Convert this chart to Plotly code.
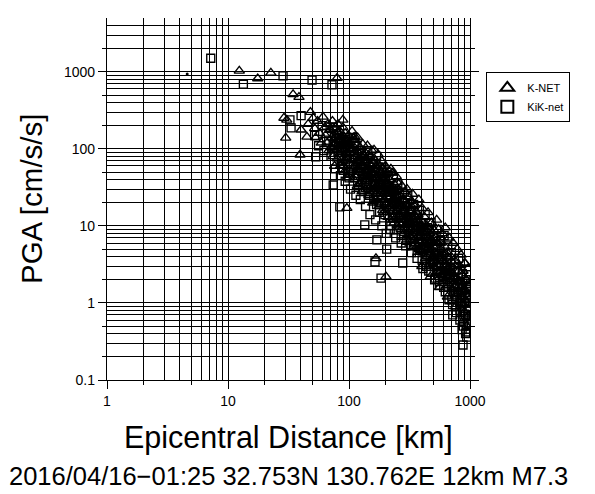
import math
import plotly.graph_objects as go

# ---- K-NET stations: epicentral distance [km] and PGA [cm/s/s] ----
knet_dist = [
    12.4, 17.6, 22.6, 29.0, 30.6, 30.0, 34.5, 38.6, 40.2, 39.4, 44.9, 50.6, 79.6,
    89, 112, 161, 188, 226, 338, 372, 907, 504, 167, 202, 250, 181, 96,
    46, 48, 52, 55, 57, 59, 53, 61, 63, 64, 66, 67, 68, 70, 72, 73, 74, 75, 76, 77, 78, 79,
    81, 82, 83, 84, 85, 86, 87, 88, 89, 90, 91, 92, 93, 94, 95, 96, 97, 98, 99, 100,
    102, 104, 105, 106, 108, 110, 111, 113, 115, 117, 118, 120, 122, 123, 125, 127, 128, 130,
    132, 134, 136, 138, 140, 142, 144, 146, 148, 150, 152, 155, 157, 159, 161, 163, 165, 167, 169,
    172, 174, 176, 178, 180, 182, 184, 186, 188, 190, 193, 195, 197, 200, 203, 205, 208, 210, 213, 216, 219,
    222, 225, 228, 231, 234, 237, 240, 243, 246, 250, 253, 256, 259, 262, 266, 270, 274, 278,
    282, 286, 290, 294, 298, 302, 306, 310, 315, 320, 325, 330, 335, 340, 345,
    350, 355, 360, 366, 372, 378, 384, 390, 396, 402, 408, 415, 422, 429, 436, 443, 450,
    457, 464, 472, 480, 488, 496, 504, 512, 520, 530, 540, 550, 560, 570, 580, 590,
    600, 612, 624, 636, 648, 660, 672, 685, 698, 712, 726, 740, 755, 770, 785, 800,
    815, 830, 845, 860, 875, 890, 905, 920, 935, 950, 965, 980, 995,
    71, 76, 80, 84, 88, 92, 95, 99, 103, 107, 109, 114, 119, 124, 126, 129, 133, 137, 141, 145,
    149, 153, 156, 160, 164, 168, 171, 175, 179, 183, 187, 192, 196, 201, 206, 211, 217, 223, 229, 235,
    241, 247, 252, 258, 264, 272, 280, 288, 296, 304, 312, 318, 328, 338, 348, 358, 368, 380, 393, 405,
    418, 432, 446, 460, 476, 492, 508, 525, 543, 562, 582, 603, 625, 648, 672, 697, 723, 750, 778, 808,
    840, 872, 905, 940, 975,
    70, 73, 77, 80, 83, 86, 90, 93, 96, 100, 104, 108, 112, 116, 120, 124, 128, 132, 136, 140,
    144, 148, 152, 156, 160, 164, 168, 172, 176, 180, 185, 190, 195, 200, 205, 210, 215, 220, 225, 230,
    236, 242, 248, 254, 260, 266, 272, 278, 285, 292, 299, 306, 314, 322, 330, 338, 346, 354, 362, 370,
    380, 390, 400, 410, 420, 430, 440, 450, 460, 470, 482, 494, 506, 518, 530, 543, 556, 569, 582, 595,
    610, 625, 640, 655, 670, 686, 702, 718, 735, 752, 770, 788, 806, 825, 844, 863, 883, 903, 924, 945,
    966, 988, 880, 940, 970, 760, 650, 560, 470, 400,
]
knet_pga = [
    1030, 820, 970, 252, 238, 139, 510, 470, 177, 84, 143, 252, 830,
    238, 143, 97, 57, 49, 19, 14, 3.3, 8.9, 3.8, 2.2, 37, 53, 17,
    210, 300, 185, 230, 160, 120, 140, 260, 190, 150, 120, 210, 95, 175, 140, 230, 80, 115, 60, 190, 150, 100,
    210, 130, 85, 170, 60, 110, 145, 75, 190, 120, 50, 95, 160, 70, 130, 42, 110, 85, 150, 65,
    120, 90, 55, 170, 75, 40, 130, 60, 95, 33, 140, 70, 50, 105, 38, 80, 28, 115,
    60, 45, 90, 30, 70, 110, 52, 25, 80, 40, 62, 95, 20, 48, 75, 35, 70, 26, 55,
    42, 85, 30, 18, 60, 38, 24, 70, 45, 32, 15, 45, 28, 60, 20, 36, 48, 13, 26, 40, 18,
    55, 30, 22, 49, 12, 35, 17, 27, 44, 25, 10, 21, 30, 14, 25, 9, 33, 16,
    22, 12, 28, 8.5, 18, 30, 11, 24, 7.5, 15, 21, 9, 26, 13, 6.5,
    19, 10, 15, 5.5, 11, 22, 8, 12, 4.8, 17, 9.5, 6, 13, 3.8, 10, 7, 15,
    5, 9, 3.2, 11, 6.5, 4, 6, 2.8, 7, 12, 4.5, 9, 2.5, 6, 3.6, 8,
    2.2, 5.5, 9.5, 3, 4.5, 1.8, 7, 2.6, 4, 1.5, 6, 2.2, 3.5, 1.2, 5, 2,
    3.1, 1.0, 4.2, 1.6, 2.6, 0.8, 3.3, 1.3, 2, 0.65, 2.8, 1.1, 1.7,
    105, 135, 165, 125, 100, 140, 88, 120, 65, 100, 140, 80, 58, 75, 60, 48, 82, 52, 44, 65,
    55, 33, 48, 28, 42, 60, 33, 24, 38, 50, 30, 40, 22, 35, 26, 30, 23, 18, 28, 22,
    14, 18, 30, 17, 20, 13, 18, 15, 12, 14, 18, 11, 13, 17, 11, 8, 9.5, 7, 9, 6.5,
    8.5, 6, 5, 7, 4.5, 5.5, 3.5, 4.2, 6, 3.8, 2.8, 3.6, 2.6, 2.8, 2.2, 3, 2.4, 1.6, 2.1, 1.4,
    1.9, 1.2, 1.5, 1.0, 1.3,
    180, 100, 120, 75, 150, 95, 60, 115, 75, 100, 50, 110, 45, 70, 90, 35, 60, 85, 40, 55,
    30, 45, 70, 28, 40, 55, 22, 32, 45, 20, 34, 16, 30, 42, 15, 24, 33, 12, 20, 27,
    11, 22, 16, 24, 9.5, 18, 12, 22, 8, 14, 19, 8.5, 12, 16, 7, 10.5, 14, 6, 9, 12,
    5, 8, 10, 4.5, 7, 9, 4, 6, 8, 3.5, 5, 7, 3, 4.5, 6, 2.6, 4, 5, 2.3, 3.5,
    4.5, 2, 3, 4, 1.7, 2.5, 3.5, 1.5, 2.2, 3, 1.3, 1.9, 2.6, 1.1, 1.6, 2.3, 0.95, 1.4, 2, 0.85,
    1.2, 1.8, 0.6, 0.5, 0.7, 0.9, 1.2, 1.6, 2.2, 3,
]

# ---- KiK-net stations ----
kik_dist = [
    7.2, 13.4, 28.5, 49.5, 72.3, 32.5, 33.2, 40.2, 74, 53, 74, 84, 135, 164, 170, 184, 205, 278, 876,
    52, 56, 60, 62, 65, 68, 71, 74, 77, 79, 81, 83, 85, 87, 89, 91, 93, 95, 97, 99,
    101, 103, 106, 108, 111, 114, 116, 119, 121, 124, 127, 129, 131, 134, 137, 140, 143, 146, 149, 152,
    156, 160, 163, 166, 169,
    173, 176, 179, 183, 187, 191, 195, 199, 203, 207, 211, 215, 219, 224, 228, 233, 238, 243, 248, 253,
    258, 264, 270, 276,
    282, 288, 294, 300, 306, 313, 320, 327, 334, 342, 349, 357, 365, 373, 381, 390, 399, 408, 417, 426,
    436, 446,
    456, 466, 477, 488, 499, 510, 522, 534, 546, 558, 571, 584, 597, 611, 625, 640, 655, 670, 686, 702,
    718, 735, 752, 770, 788,
    806, 825, 844, 863, 883, 903, 924, 945, 966, 988, 940, 955,
    78, 86, 94, 102, 110, 118, 126, 135, 144, 154, 165, 177, 190, 204, 219, 235, 252, 270, 290, 311,
    333, 356, 381, 408, 437, 468, 500, 535, 572, 612, 655, 700, 748, 800, 855, 915, 970,
    75, 82, 88, 94, 100, 106, 112, 118, 124, 130, 136, 142, 148, 155, 162, 169, 176, 183, 190, 198,
    206, 214, 222, 230, 238, 246, 254, 262, 270, 280, 290, 300, 310, 320, 330, 342, 354, 366, 378, 390,
    402, 414, 426, 438, 450, 462, 475, 488, 502, 516, 530, 545, 560, 575, 590, 606, 622, 638, 655, 672,
    690, 708, 726, 745, 764, 784, 804, 824, 845, 866, 888, 910, 932, 955, 978, 995, 860, 920, 980, 720,
]
kik_pga = [
    1500, 690, 890, 785, 680, 238, 187, 270, 193, 79, 34, 17.7, 10.3, 3.4, 6.6, 2.1, 5.0, 3.3, 0.285,
    150, 110, 200, 95, 160, 130, 80, 115, 55, 170, 90, 140, 45, 100, 65, 130, 38, 80, 115, 50,
    95, 30, 140, 60, 85, 25, 110, 45, 65, 22, 90, 40, 55, 75, 18, 35, 95, 50, 14, 30,
    65, 22, 44, 12, 80,
    25, 50, 15, 35, 10, 55, 20, 40, 8, 28, 45, 16, 9, 30, 13, 42, 20, 7, 25, 35,
    11, 18, 6, 27,
    14, 20, 5.5, 12, 25, 8, 16, 4.5, 10, 19, 6, 13, 3.8, 9, 16, 5, 11, 2.8, 8, 14,
    4.2, 9.5,
    2.6, 6.2, 11, 3.4, 7.5, 2, 5, 9, 3, 1.7, 6.5, 4, 2.2, 7.5, 1.4, 3.8, 5.5, 1.1, 2.8, 4.5,
    0.95, 2, 3.2, 0.75, 1.6,
    3.8, 0.6, 1.3, 2.4, 0.5, 1.0, 2, 0.42, 0.8, 1.5, 0.36, 1.2,
    125, 75, 105, 50, 120, 75, 55, 40, 28, 45, 35, 20, 30, 18, 24, 14, 16, 13, 9, 12,
    7, 9, 6, 5, 7, 4, 3.2, 5.5, 2.5, 2.9, 2.4, 1.8, 1.3, 1.4, 0.9, 0.7, 0.55,
    90, 120, 55, 140, 42, 80, 120, 38, 60, 30, 65, 48, 25, 52, 38, 19, 35, 28, 42, 14,
    25, 32, 10, 16, 24, 9, 13, 20, 7.5, 11, 16, 6.5, 9, 13, 5.5, 7.5, 11, 4.5, 6, 9.5,
    3.6, 5, 7.5, 3, 4.2, 6, 2.5, 3.6, 5, 2.1, 3, 4.2, 1.9, 2.6, 3.6, 1.6, 2.4, 3.2, 1.3, 2,
    2.8, 1.1, 1.7, 2.5, 0.9, 1.4, 2.1, 0.8, 1.2, 1.8, 0.7, 1.0, 1.5, 0.6, 0.9, 1.3, 0.45, 0.4, 0.5, 0.7,
]

# single unlabelled point near the epicentre
near_dist = [4.6]
near_pga = [940]

# ---- axes ----
x_range = [1, 1000]
y_range = [0.1, 5000]
x_major = [1, 10, 100, 1000]
x_major_text = ["1", "10", "100", "1000"]
y_major = [0.1, 1, 10, 100, 1000]
y_major_text = ["0.1", "1", "10", "100", "1000"]
sub_steps = [2, 5]
grid_steps = [2, 3, 4, 5, 6, 7, 8, 9]

title_text = "2016/04/16\u221201:25 32.753N 130.762E 12km M7.3"


def decade_multiples(lo, hi, steps):
    out = []
    d = 10 ** math.floor(math.log10(lo))
    while d <= hi:
        for s in steps:
            v = s * d
            if lo < v < hi:
                out.append(v)
        d *= 10
    return out


def log_range(r):
    return [math.log10(r[0]), math.log10(r[1])]


FONT = "Liberation Sans, Arial, Helvetica, sans-serif"
INK = "black"
LW = 1.3

fig = go.Figure()

fig.add_trace(go.Scatter(
    x=knet_dist, y=knet_pga, mode="markers", name="K-NET",
    marker=dict(symbol="triangle-up-open", size=9, color=INK, line=dict(width=1.35, color=INK)),
))
fig.add_trace(go.Scatter(
    x=kik_dist, y=kik_pga, mode="markers", name="KiK-net",
    marker=dict(symbol="square-open", size=8, color=INK, line=dict(width=1.35, color=INK)),
))
fig.add_trace(go.Scatter(
    x=near_dist, y=near_pga, mode="markers", showlegend=False,
    marker=dict(symbol="circle", size=3, color=INK),
))
# carrier for the secondary tick axes (2 and 5 marks)
fig.add_trace(go.Scatter(x=[], y=[], xaxis="x2", yaxis="y2", showlegend=False, hoverinfo="skip"))

common = dict(type="log", showline=True, linecolor=INK, linewidth=LW, zeroline=False,
              tickfont=dict(family=FONT, size=14, color=INK), tickcolor=INK, tickwidth=LW)

fig.update_layout(
    width=595, height=494,
    margin=dict(l=107, r=125, t=18, b=114),
    paper_bgcolor="white", plot_bgcolor="white",
    font=dict(family=FONT, color=INK),
    showlegend=True,
    xaxis=dict(
        **common, range=log_range(x_range),
        tickmode="array", tickvals=x_major, ticktext=x_major_text,
        ticks="outside", ticklen=8,
        showgrid=True, gridcolor=INK, gridwidth=LW,
        minor=dict(tickmode="array", tickvals=decade_multiples(*x_range, grid_steps),
                   showgrid=True, gridcolor=INK, gridwidth=LW, ticks=""),
    ),
    yaxis=dict(
        **common, range=log_range(y_range),
        tickmode="array", tickvals=y_major, ticktext=y_major_text,
        ticks="outside", ticklen=8, mirror="ticks",
        showgrid=True, gridcolor=INK, gridwidth=LW,
        minor=dict(tickmode="array", tickvals=decade_multiples(*y_range, grid_steps),
                   showgrid=True, gridcolor=INK, gridwidth=LW, ticks=""),
    ),
    xaxis2=dict(
        type="log", range=log_range(x_range), overlaying="x", anchor="y2", side="bottom",
        tickmode="array", tickvals=decade_multiples(*x_range, sub_steps),
        ticks="outside", ticklen=4, tickcolor=INK, tickwidth=LW,
        showticklabels=False, showgrid=False, zeroline=False, showline=False,
    ),
    yaxis2=dict(
        type="log", range=log_range(y_range), overlaying="y", anchor="x2", side="left",
        tickmode="array", tickvals=decade_multiples(*y_range, sub_steps),
        ticks="outside", ticklen=4, tickcolor=INK, tickwidth=LW, mirror="ticks",
        showticklabels=False, showgrid=False, zeroline=False, showline=False,
    ),
    legend=dict(
        x=1.045, y=0.85, xanchor="left", yanchor="top",
        bordercolor=INK, borderwidth=1, bgcolor="white",
        font=dict(family=FONT, size=11, color=INK),
        itemsizing="constant", tracegroupgap=0,
    ),
    annotations=[
        dict(text="PGA [cm/s/s]", textangle=-90, xref="paper", yref="paper",
             x=(31 - 107) / 363, y=0.5, xanchor="center", yanchor="middle",
             showarrow=False, font=dict(family=FONT, size=29.5, color=INK)),
        dict(text="Epicentral Distance [km]", xref="paper", yref="paper",
             x=0.5, y=(380 - 437) / 362, xanchor="center", yanchor="middle",
             showarrow=False, font=dict(family=FONT, size=30.5, color=INK)),
        dict(text=title_text, xref="paper", yref="paper",
             x=0.5, y=(380 - 476) / 362, xanchor="center", yanchor="middle",
             showarrow=False, font=dict(family=FONT, size=25.5, color=INK)),
    ],
)

fig.write_html("out.html")
